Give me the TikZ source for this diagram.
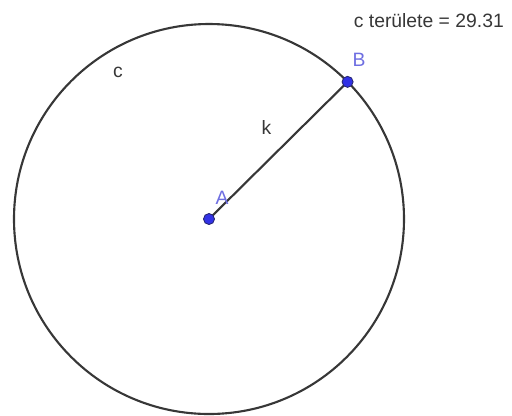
\documentclass[tikz,border=0pt]{standalone}
\usepackage{fontspec}
\setmainfont{Liberation Sans}
\usepackage{tikz}
\definecolor{geoline}{RGB}{55,55,55}
\definecolor{geopoint}{RGB}{50,50,230}
\definecolor{geolabel}{RGB}{110,110,225}
\tikzset{
	geo/.style={draw=geoline, line width=1.2pt},
	pt/.style={fill=geopoint, draw=geoline!70!blue, line width=0.5pt},
	ptname/.style={text=geolabel, font=\fontsize{11}{12}\selectfont},
	objname/.style={text=geoline, font=\fontsize{11}{12}\selectfont}
}

\begin{document}
\begin{tikzpicture}
			\useasboundingbox (0,0) rectangle (10.24,-8.3);
			\coordinate (A) at (4.18,-4.38);
			\coordinate (B) at ([shift={(44.7:3.9)}]A);
			
			\draw[geo] (A) circle (3.9);
			\draw[geo] (A) -- (B);
			
			\filldraw[pt] (A) circle (0.11);
			\filldraw[pt] (B) circle (0.11);
			
			\node[ptname] (labA) at (4.44,-3.96) {A};
			\node[ptname] (labB) at (7.18,-1.2) {B};
			\node[objname] (labc) at (2.36,-1.45) {c};
			\node[objname] (labk) at (5.33,-2.55) {k};
			\node[objname, anchor=east] (area) at (10.2,-0.42) {c területe = 29.31};
		\end{tikzpicture}
\end{document}
